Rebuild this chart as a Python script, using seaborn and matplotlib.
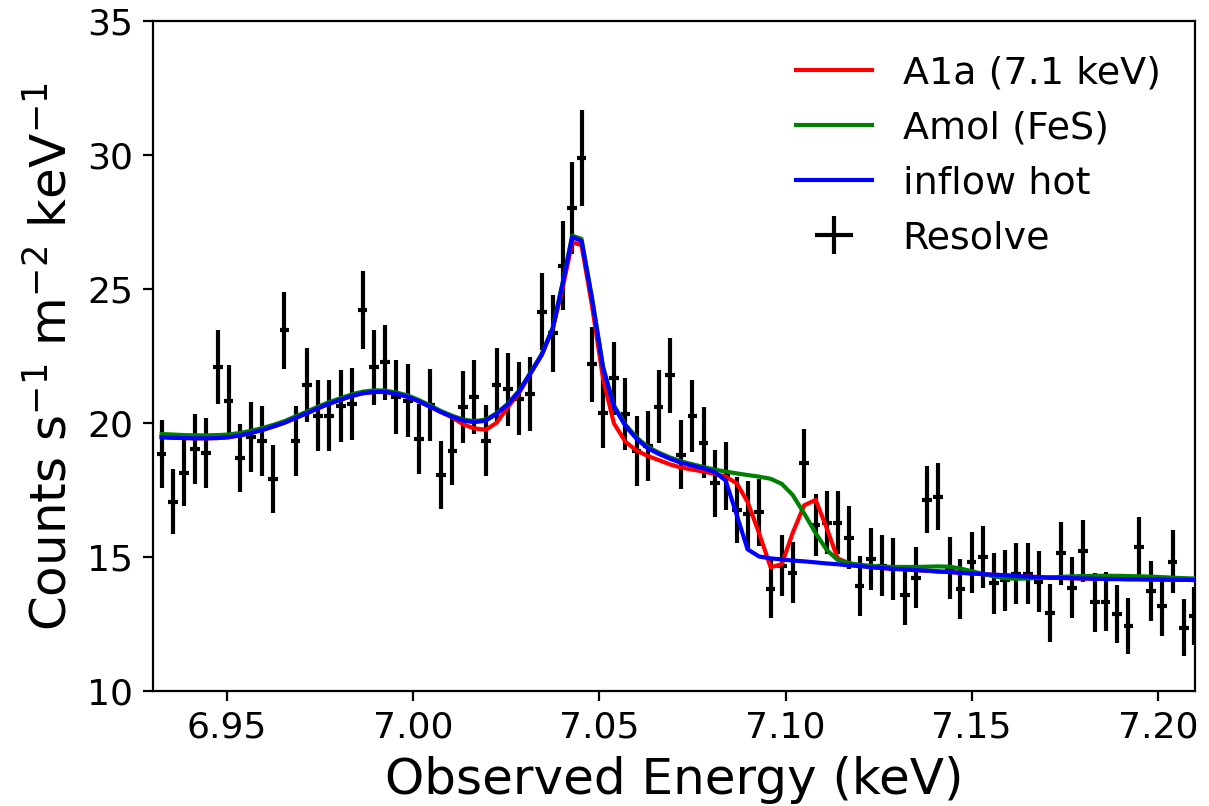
import numpy as np
import pandas as pd
import matplotlib
matplotlib.use("Agg")
import matplotlib.pyplot as plt
import seaborn as sns

energy = [6.9324, 6.9354, 6.9384, 6.9414, 6.9444, 6.9475, 6.9504, 6.9535, 6.9564, 6.9594,
          6.9624, 6.9654, 6.9684, 6.9715, 6.9744, 6.9774, 6.9805, 6.9835, 6.9864, 6.9894,
          6.9924, 6.9954, 6.9985, 7.0015, 7.0045, 7.0074, 7.0105, 7.0134, 7.0164, 7.0195,
          7.0224, 7.0254, 7.0285, 7.0314, 7.0345, 7.0375, 7.0402, 7.0427, 7.0452, 7.0480,
          7.0510, 7.0539, 7.0570, 7.0600, 7.0630, 7.0659, 7.0689, 7.0719, 7.0750, 7.0780,
          7.0810, 7.0839, 7.0869, 7.0898, 7.0929, 7.0960, 7.0990, 7.1019, 7.1050, 7.1081,
          7.1111, 7.1140, 7.1170, 7.1199, 7.1230, 7.1259, 7.1290, 7.1321, 7.1351, 7.1380,
          7.1410, 7.1441, 7.1470, 7.1500, 7.1530, 7.1560, 7.1590, 7.1620, 7.1651, 7.1680,
          7.1710, 7.1740, 7.1770, 7.1800, 7.1831, 7.1860, 7.1890, 7.1921, 7.1950, 7.1981,
          7.2011, 7.2040, 7.2070, 7.2098]

counts = [18.85, 17.07, 18.16, 19.04, 18.89, 22.10, 20.84, 18.70, 19.48, 19.34,
          17.92, 23.47, 19.35, 21.43, 20.28, 20.28, 20.66, 20.73, 24.23, 22.09,
          22.28, 20.98, 20.84, 19.41, 20.68, 18.07, 18.98, 20.61, 20.98, 19.35,
          21.43, 21.27, 20.91, 21.09, 24.16, 23.36, 25.88, 28.04, 29.89, 22.20,
          20.40, 21.68, 20.34, 18.97, 19.16, 20.62, 21.79, 18.82, 20.26, 19.28,
          17.76, 18.02, 16.76, 16.60, 16.68, 13.81, 14.69, 14.43, 18.51, 16.21,
          16.29, 16.29, 15.73, 13.93, 14.93, 14.69, 14.56, 13.60, 14.24, 17.15,
          17.26, 14.60, 13.81, 14.81, 15.02, 14.03, 14.15, 14.39, 14.39, 14.09,
          12.93, 15.15, 13.87, 15.24, 13.32, 13.34, 12.88, 12.44, 15.40, 13.74,
          13.18, 14.84, 12.37, 12.82]

count_err = [1.28, 1.21, 1.25, 1.29, 1.29, 1.39, 1.32, 1.27, 1.31, 1.31,
             1.26, 1.44, 1.31, 1.37, 1.33, 1.33, 1.34, 1.35, 1.46, 1.40,
             1.40, 1.37, 1.36, 1.31, 1.35, 1.26, 1.30, 1.35, 1.37, 1.32,
             1.38, 1.37, 1.36, 1.37, 1.44, 1.43, 1.66, 1.72, 1.79, 1.40,
             1.34, 1.37, 1.34, 1.31, 1.31, 1.35, 1.40, 1.29, 1.34, 1.32,
             1.25, 1.27, 1.23, 1.24, 1.26, 1.09, 1.15, 1.13, 1.29, 1.16,
             1.18, 1.17, 1.17, 1.12, 1.16, 1.15, 1.15, 1.11, 1.14, 1.24,
             1.26, 1.14, 1.13, 1.15, 1.16, 1.13, 1.14, 1.14, 1.14, 1.14,
             1.09, 1.17, 1.13, 1.16, 1.10, 1.10, 1.09, 1.05, 1.11, 1.11,
             1.10, 1.16, 1.06, 1.08]

energy_halfwidth = 0.0013

model_inflow_hot = [19.48, 19.46, 19.45, 19.44, 19.44, 19.45, 19.48, 19.55, 19.64, 19.75,
                    19.88, 20.02, 20.20, 20.38, 20.56, 20.73, 20.88, 21.02, 21.12, 21.17,
                    21.17, 21.10, 20.99, 20.82, 20.62, 20.42, 20.24, 20.10, 20.04, 20.10,
                    20.35, 20.70, 21.20, 21.85, 22.55, 23.55, 25.25, 26.95, 26.80, 24.65,
                    22.05, 20.62, 19.90, 19.42, 19.07, 18.86, 18.68, 18.53, 18.42, 18.32,
                    18.18, 17.87, 16.58, 15.30, 15.03, 14.96, 14.92, 14.88, 14.85, 14.81,
                    14.77, 14.74, 14.70, 14.67, 14.63, 14.60, 14.57, 14.55, 14.52, 14.50,
                    14.47, 14.45, 14.42, 14.40, 14.37, 14.35, 14.33, 14.30, 14.28, 14.26,
                    14.24, 14.23, 14.22, 14.21, 14.20, 14.19, 14.19, 14.18, 14.18, 14.17,
                    14.17, 14.16, 14.16, 14.15]

model_a1a = [19.48, 19.46, 19.45, 19.44, 19.44, 19.45, 19.48, 19.55, 19.64, 19.75,
             19.88, 20.02, 20.20, 20.38, 20.56, 20.73, 20.88, 21.02, 21.12, 21.17,
             21.17, 21.10, 20.99, 20.82, 20.62, 20.42, 20.22, 19.96, 19.81, 19.76,
             20.02, 20.60, 21.15, 21.83, 22.55, 23.55, 25.10, 26.75, 26.65, 24.40,
             21.65, 20.00, 19.31, 18.98, 18.78, 18.63, 18.47, 18.35, 18.27, 18.20,
             18.11, 18.01, 17.76, 17.07, 15.90, 14.63, 14.74, 15.90, 16.94, 17.14,
             16.08, 14.96, 14.78, 14.70, 14.63, 14.60, 14.57, 14.55, 14.52, 14.50,
             14.47, 14.45, 14.42, 14.40, 14.37, 14.35, 14.33, 14.30, 14.28, 14.26,
             14.24, 14.23, 14.22, 14.21, 14.20, 14.19, 14.19, 14.18, 14.18, 14.17,
             14.17, 14.16, 14.16, 14.15]

model_amol = [19.60, 19.58, 19.56, 19.55, 19.55, 19.56, 19.58, 19.64, 19.72, 19.82,
              19.94, 20.08, 20.26, 20.44, 20.62, 20.79, 20.94, 21.08, 21.18, 21.23,
              21.22, 21.15, 21.04, 20.87, 20.67, 20.46, 20.28, 20.14, 20.08, 20.14,
              20.38, 20.73, 21.23, 21.88, 22.58, 23.58, 25.30, 27.00, 26.88, 24.70,
              22.10, 20.67, 19.95, 19.47, 19.12, 18.91, 18.73, 18.58, 18.47, 18.37,
              18.27, 18.20, 18.13, 18.07, 18.01, 17.93, 17.74, 17.33, 16.64, 15.90,
              15.27, 14.90, 14.78, 14.72, 14.68, 14.65, 14.64, 14.64, 14.64, 14.65,
              14.66, 14.65, 14.58, 14.48, 14.38, 14.29, 14.22, 14.20, 14.21, 14.23,
              14.25, 14.27, 14.29, 14.30, 14.31, 14.31, 14.31, 14.30, 14.29, 14.28,
              14.26, 14.24, 14.22, 14.21]

model_labels = ["A1a (7.1 keV)", "Amol (FeS)", "inflow hot"]
model_colors = ["red", "green", "blue"]
data_label = "Resolve"
x_ticks = [6.95, 7.00, 7.05, 7.10, 7.15, 7.20]
y_ticks = [10, 15, 20, 25, 30, 35]

plt.rcParams["font.family"] = ["DejaVu Sans"]

fig = plt.figure(figsize=(6.045, 4.03), dpi=200)
ax = fig.add_axes([0.1263, 0.1423, 0.9884 - 0.1263, 0.9736 - 0.1423])

eb = ax.errorbar(energy, counts, xerr=energy_halfwidth, yerr=count_err,
                 fmt="none", ecolor="black", elinewidth=1.5, capsize=0,
                 label=data_label, zorder=2)

df = pd.DataFrame({"energy": energy,
                   model_labels[0]: model_a1a,
                   model_labels[1]: model_amol,
                   model_labels[2]: model_inflow_hot})
for lab, col in zip(model_labels, model_colors):
    sns.lineplot(data=df, x="energy", y=lab, ax=ax, color=col, linewidth=1.5,
                 sort=False, estimator=None, label=lab, zorder=3)

ax.set_xlim(6.93, 7.21)
ax.set_ylim(10, 35)
ax.set_xticks(x_ticks)
ax.set_xticklabels([f"{t:.2f}" for t in x_ticks])
ax.set_yticks(y_ticks)
ax.tick_params(labelsize=13)
ax.set_xlabel("Observed Energy (keV)", fontsize=18)
ax.set_ylabel(r"Counts s$^{-1}$ m$^{-2}$ keV$^{-1}$", fontsize=18)

h, l = ax.get_legend_handles_labels()
order = [l.index(n) for n in model_labels + [data_label]]
ax.legend([h[i] for i in order], [l[i] for i in order], loc="upper right",
          frameon=False, fontsize=13.7)

fig.savefig("out.png", dpi=200)
